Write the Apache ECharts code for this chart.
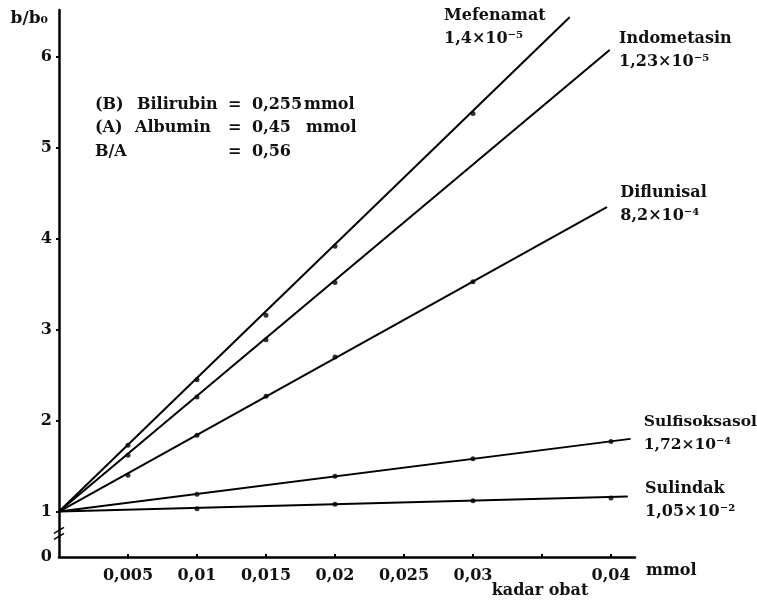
<!DOCTYPE html>
<html>
<head>
<meta charset="utf-8">
<script src="https://cdn.jsdelivr.net/npm/echarts@6/dist/echarts.min.js"></script>
<style>
  html, body { margin: 0; padding: 0; background: #fff; }
  #chart { width: 757px; height: 601px; }
</style>
</head>
<body>
<div id="chart"></div>
<script>
// titik pengukuran: [kadar obat (mmol), b/b0]
const mefenamatDots = [[0.005, 1.73], [0.01, 2.45], [0.015, 3.16], [0.02, 3.92], [0.03, 5.38]];
const indometasinDots = [[0.005, 1.62], [0.01, 2.26], [0.015, 2.89], [0.02, 3.52]];
const diflunisalDots = [[0.005, 1.40], [0.01, 1.84], [0.015, 2.27], [0.02, 2.70], [0.03, 3.53]];
const sulfisoksasolDots = [[0.01, 1.19], [0.02, 1.39], [0.03, 1.58], [0.04, 1.77]];
const sulindakDots = [[0.01, 1.03], [0.02, 1.08], [0.03, 1.12], [0.04, 1.15]];

// garis lurus dari (0, 1) ke ujung masing-masing
const lineStart = [0, 1];
const mefenamatEnd = [0.037, 6.44];
const indometasinEnd = [0.0399, 6.08];
const diflunisalEnd = [0.0397, 4.35];
const sulfisoksasolEnd = [0.0414, 1.80];
const sulindakEnd = [0.0412, 1.165];

const drugNames = ["Mefenamat", "Indometasin", "Diflunisal", "Sulfisoksasol", "Sulindak"];
const drugConstants = ["1,4×10⁻⁵", "1,23×10⁻⁵", "8,2×10⁻⁴", "1,72×10⁻⁴", "1,05×10⁻²"];

const xTickValues = [0.005, 0.01, 0.015, 0.02, 0.025, 0.03, 0.035, 0.04];
const xLabelValues = [0.005, 0.01, 0.015, 0.02, 0.025, 0.03, 0.04];
const yTickValues = [1, 2, 3, 4, 5, 6];
const yLabelValues = [0.5, 1, 2, 3, 4, 5, 6]; // 0.5 = posisi "0" di bawah patahan sumbu

const FONT = '"DejaVu Serif", "Liberation Serif", serif';

const allDots = [mefenamatDots, indometasinDots, diflunisalDots, sulfisoksasolDots, sulindakDots];
const allEnds = [mefenamatEnd, indometasinEnd, diflunisalEnd, sulfisoksasolEnd, sulindakEnd];
// letak label di ujung garis
const labelPos = [
  { position: "left", distance: 0, offset: [-125, 10], size: 16 },
  { position: "right", distance: 9, offset: [0, 0], size: 16 },
  { position: "right", distance: 13, offset: [0, -3], size: 16 },
  { position: "right", distance: 13, offset: [0, -5], size: 15.5 },
  { position: "right", distance: 17, offset: [0, 4], size: 16 }
];

let series = [];
drugNames.forEach((name, i) => {
  series.push({
    name: name,
    type: "line",
    symbol: "circle",
    symbolSize: 1,
    itemStyle: { color: "#000" },
    lineStyle: { color: "#000", width: 2 },
    data: [
      lineStart,
      {
        value: allEnds[i],
        label: {
          show: true,
          position: labelPos[i].position,
          distance: labelPos[i].distance,
          offset: labelPos[i].offset,
          formatter: name + "\n" + drugConstants[i],
          color: "#111",
          fontFamily: FONT,
          fontWeight: "bold",
          fontSize: labelPos[i].size,
          lineHeight: 23,
          align: "left"
        }
      }
    ]
  });
  series.push({
    name: name + " titik",
    type: "scatter",
    symbol: "circle",
    symbolSize: 5,
    itemStyle: { color: "#000" },
    data: allDots[i]
  });
});

let chart = echarts.init(document.getElementById("chart"));
let option = {
  animation: false,
  backgroundColor: "#fff",
  grid: { left: 59, right: 122, top: 10, bottom: 44 },
  xAxis: {
    type: "value",
    min: 0,
    max: 0.04174,
    name: "mmol",
    nameLocation: "end",
    nameGap: 11,
    nameTextStyle: {
      color: "#111", fontFamily: FONT, fontWeight: "bold", fontSize: 16,
      verticalAlign: "top", padding: [6, 0, 0, 0]
    },
    axisLine: { lineStyle: { color: "#000", width: 2.5 } },
    axisTick: { inside: true, length: 3, customValues: xTickValues, lineStyle: { color: "#000", width: 2 } },
    axisLabel: {
      customValues: xLabelValues,
      margin: 11,
      color: "#111",
      fontFamily: FONT,
      fontWeight: "bold",
      fontSize: 16,
      formatter: v => String(parseFloat(v.toFixed(3))).replace(".", ",")
    },
    splitLine: { show: false }
  },
  yAxis: {
    type: "value",
    min: 0.5,
    max: 6.52,
    name: "b/b₀",
    nameLocation: "end",
    nameGap: 0,
    nameTextStyle: {
      color: "#111", fontFamily: FONT, fontWeight: "bold", fontSize: 17,
      align: "right", verticalAlign: "top", padding: [0, 11, 0, 0]
    },
    axisLine: { lineStyle: { color: "#000", width: 2.5 } },
    axisTick: { length: 3, customValues: yTickValues, lineStyle: { color: "#000", width: 2 } },
    axisLabel: {
      customValues: yLabelValues,
      margin: 7,
      color: "#111",
      fontFamily: FONT,
      fontWeight: "bold",
      fontSize: 16,
      formatter: v => (v === 0.5 ? "0" : String(v))
    },
    splitLine: { show: false }
  },
  series: series
};
chart.setOption(option);

// keterangan dan tanda patahan sumbu y
const noteFont = { fontFamily: FONT, fontWeight: "bold", fontSize: 16, fill: "#111", verticalAlign: "middle" };
const noteRows = [
  [[95, "(B)"], [137, "Bilirubin"], [228, "="], [252, "0,255"], [304, "mmol"]],
  [[95, "(A)"], [135, "Albumin"], [228, "="], [252, "0,45"], [306, "mmol"]],
  [[95, "B/A"], [228, "="], [252, "0,56"]]
];
const noteY = [105, 128, 152];
let graphics = [];
noteRows.forEach((row, r) => {
  row.forEach(cell => {
    graphics.push({
      type: "text", x: cell[0], y: noteY[r],
      style: Object.assign({ text: cell[1] }, noteFont)
    });
  });
});
graphics.push({
  type: "text", x: 540, y: 591,
  style: Object.assign({ text: "kadar obat", align: "center" }, noteFont)
});

let axisX = chart.convertToPixel({ xAxisIndex: 0 }, 0);
let breakY = chart.convertToPixel({ yAxisIndex: 0 }, 0.75);
graphics.push({
  type: "rect",
  shape: { x: axisX - 3, y: breakY - 4, width: 6, height: 6 },
  style: { fill: "#fff" }
});
graphics.push({
  type: "line",
  shape: { x1: axisX - 5, y1: breakY - 1, x2: axisX + 5, y2: breakY - 7 },
  style: { stroke: "#000", lineWidth: 1.5 }
});
graphics.push({
  type: "line",
  shape: { x1: axisX - 5, y1: breakY + 5, x2: axisX + 5, y2: breakY - 1 },
  style: { stroke: "#000", lineWidth: 1.5 }
});
chart.setOption({ graphic: graphics });
</script>
</body>
</html>
